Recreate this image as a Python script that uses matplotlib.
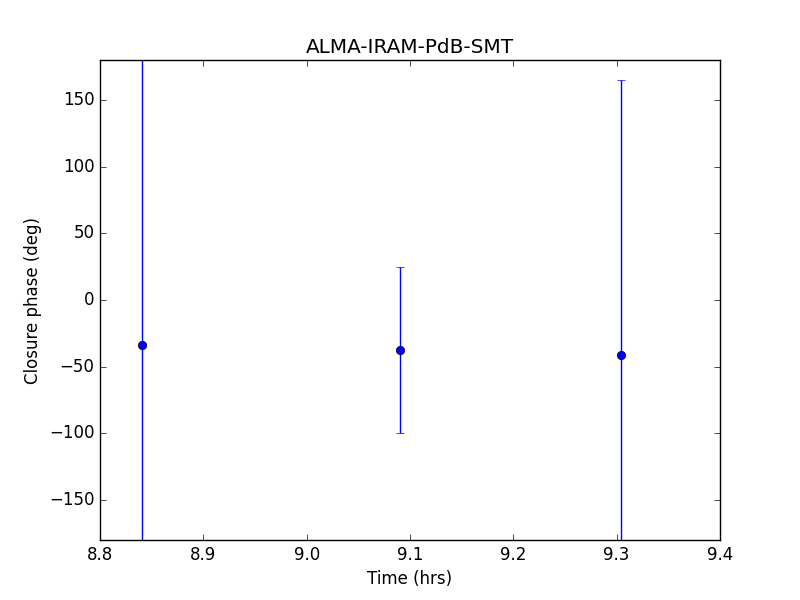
import matplotlib
matplotlib.use("Agg")
import matplotlib.pyplot as plt

plt.style.use("classic")

times = [8.8407, 9.0903, 9.3043]
phases = [-33.6, -37.5, -41.0]
errors = [260.0, 62.0, 206.0]

fig = plt.figure(figsize=(8, 6), dpi=100)
ax = fig.add_subplot(111)
ax.errorbar(times, phases, yerr=errors, fmt="o", color="b", ecolor="b",
            markeredgecolor="k", capsize=3)
ax.set_xlim(8.8, 9.4)
ax.set_ylim(-180, 180)
ax.set_xlabel("Time (hrs)")
ax.set_ylabel("Closure phase (deg)")
ax.set_title("ALMA-IRAM-PdB-SMT")
fig.savefig("out.png", dpi=100, facecolor="white")
